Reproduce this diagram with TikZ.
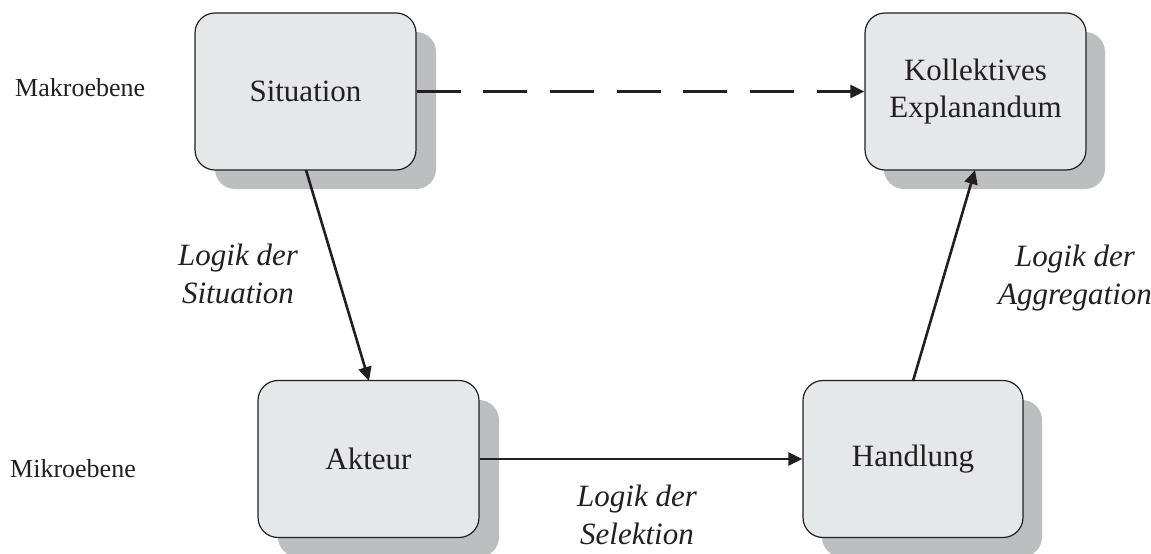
\documentclass[tikz,border=0pt]{standalone}
\usepackage{fontspec}
\setmainfont{Liberation Serif}
\usetikzlibrary{arrows.meta}
\definecolor{boxfill}{HTML}{E6E7E9}
\definecolor{shadowgray}{HTML}{BDBEC0}
\definecolor{ink}{HTML}{231F20}
\tikzset{
  levelbox/.style={draw=ink, line width=1.2pt, fill=boxfill, rounded corners=20pt,
    minimum width=221pt, minimum height=157pt, align=center, inner sep=0pt,
    font=\fontsize{31}{37}\selectfont, text=ink},
  boxshadow/.style={fill=shadowgray, rounded corners=20pt},
  link/.style={draw=ink, line width=2.6pt, -{Triangle[length=14pt,width=13pt]}},
  logiclabel/.style={anchor=base, align=center, inner sep=0pt,
    font=\fontsize{31}{38}\selectfont\itshape, text=ink},
  levellabel/.style={anchor=base west, inner sep=0pt,
    font=\fontsize{26}{30}\selectfont, text=ink}
}
\begin{document}
\begin{tikzpicture}[x=1pt,y=-1pt]
\useasboundingbox (0,0) rectangle (1151,554);
% drop shadows behind the four boxes
\fill[boxshadow] (215,32) rectangle ++(221,157);
\fill[boxshadow] (884,32) rectangle ++(221,157);
\fill[boxshadow] (278,400) rectangle ++(221,157);
\fill[boxshadow] (822,400) rectangle ++(220,157);
% boxes
\node[levelbox] (sit) at (305.5,91.5) {Situation};
\node[levelbox] (expl) at (975.5,91.5) {Kollektives\\Explanandum};
\node[levelbox] (akt) at (368.5,459) {Akteur};
\node[levelbox, minimum width=220pt] (hand) at (913,459) {Handlung};
% level names
\node[levellabel] (makro) at (15,96) {Makroebene};
\node[levellabel] (mikro) at (10,477) {Mikroebene};
% connectors
\draw[link, dash pattern=on 44pt off 22.7pt] (sit.east) -- (expl.west);
\draw[link] (306,170) coordinate (s1) (s1) -- (369,381) coordinate (a1);
\draw[link] (akt.east) -- (hand.west);
\draw[link] (913,381) coordinate (h1) (h1) -- (975,170) coordinate (e1);
% logic labels (anchored at the baseline of the last line)
\node[logiclabel] (lsit) at (238,303) {Logik der\\Situation};
\node[logiclabel] (lagg) at (1075,304) {Logik der\\Aggregation};
\node[logiclabel] (lsel) at (637,544) {Logik der\\Selektion};
\end{tikzpicture}
\end{document}
